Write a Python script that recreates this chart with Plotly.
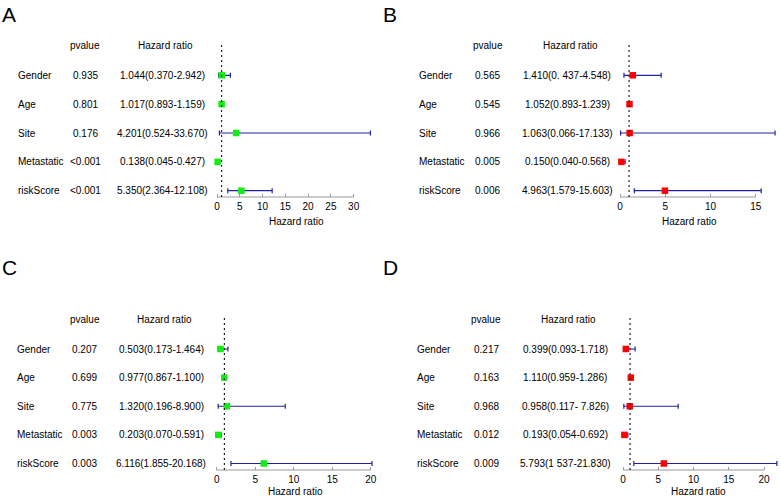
import plotly.graph_objects as go

W, H = 781, 497

# ---- data ----
variables = ["Gender", "Age", "Site", "Metastatic", "riskScore"]

a_pvalue = ["0.935", "0.801", "0.176", "<0.001", "<0.001"]
a_hr = [1.044, 1.017, 4.201, 0.138, 5.350]
a_low = [0.370, 0.893, 0.524, 0.045, 2.364]
a_high = [2.942, 1.159, 33.670, 0.427, 12.108]
a_text = ["1.044(0.370-2.942)", "1.017(0.893-1.159)", "4.201(0.524-33.670)",
          "0.138(0.045-0.427)", "5.350(2.364-12.108)"]
a_ticks = [0, 5, 10, 15, 20, 25, 30]

b_pvalue = ["0.565", "0.545", "0.966", "0.005", "0.006"]
b_hr = [1.410, 1.052, 1.063, 0.150, 4.963]
b_low = [0.437, 0.893, 0.066, 0.040, 1.579]
b_high = [4.548, 1.239, 17.133, 0.568, 15.603]
b_text = ["1.410(0. 437-4.548)", "1.052(0.893-1.239)", "1.063(0.066-17.133)",
          "0.150(0.040-0.568)", "4.963(1.579-15.603)"]
b_ticks = [0, 5, 10, 15]

c_pvalue = ["0.207", "0.699", "0.775", "0.003", "0.003"]
c_hr = [0.503, 0.977, 1.320, 0.203, 6.116]
c_low = [0.173, 0.867, 0.196, 0.070, 1.855]
c_high = [1.464, 1.100, 8.900, 0.591, 20.168]
c_text = ["0.503(0.173-1.464)", "0.977(0.867-1.100)", "1.320(0.196-8.900)",
          "0.203(0.070-0.591)", "6.116(1.855-20.168)"]
c_ticks = [0, 5, 10, 15, 20]

d_pvalue = ["0.217", "0.163", "0.968", "0.012", "0.009"]
d_hr = [0.399, 1.110, 0.958, 0.193, 5.793]
d_low = [0.093, 0.959, 0.117, 0.054, 1.537]
d_high = [1.718, 1.286, 7.826, 0.692, 21.830]
d_text = ["0.399(0.093-1.718)", "1.110(0.959-1.286)", "0.958(0.117- 7.826)",
          "0.193(0.054-0.692)", "5.793(1 537-21.830)"]
d_ticks = [0, 5, 10, 15, 20]

# ---- layout of each panel (pixel positions) ----
panels = [
    dict(letter="A", pv=a_pvalue, hr=a_hr, lo=a_low, hi=a_high, txt=a_text, ticks=a_ticks,
         color="#11ee11", lx=(0, 1), col_lab=16, col_p=85, col_hr=162.5,
         x0=217, ppu=4.556, xr=[-1, 35], top=75.3, sp=28.85, axis=197, head=45,
         dtop=42, title=(296.7, 221)),
    dict(letter="B", pv=b_pvalue, hr=b_hr, lo=b_low, hi=b_high, txt=b_text, ticks=b_ticks,
         color="#ff0000", lx=(381, 1), col_lab=417, col_p=487.5, col_hr=567,
         x0=620, ppu=9.05, xr=[-0.5, 17.5], top=75.3, sp=28.85, axis=197, head=45,
         dtop=42, title=(689.3, 221)),
    dict(letter="C", pv=c_pvalue, hr=c_hr, lo=c_low, hi=c_high, txt=c_text, ticks=c_ticks,
         color="#11ee11", lx=(0, 254), col_lab=15, col_p=84.5, col_hr=161,
         x0=216.7, ppu=7.7, xr=[-0.6, 21], top=349, sp=28.625, axis=470, head=319,
         dtop=316.7, title=(295, 491.5)),
    dict(letter="D", pv=d_pvalue, hr=d_hr, lo=d_low, hi=d_high, txt=d_text, ticks=d_ticks,
         color="#ff0000", lx=(381, 254), col_lab=415, col_p=486, col_hr=565,
         x0=623, ppu=7.05, xr=[-0.6, 22.2], top=349, sp=28.625, axis=470, head=319,
         dtop=316.7, title=(698.3, 491.5)),
]

FONT = "Liberation Sans, Arial, sans-serif"
rows = [5, 4, 3, 2, 1]


def px(x):
    return x / W


def py(y):
    return 1 - y / H


fig = go.Figure()
annotations = []
shapes = []
layout_axes = {}

for i, p in enumerate(panels):
    n = "" if i == 0 else str(i + 1)
    xa, ya = "x" + n, "y" + n

    # y range so that row 5 sits at p["top"] and the axis at p["axis"]
    row1 = p["top"] + 4 * p["sp"]
    ylo = 1 - (p["axis"] - row1) / p["sp"]
    yhi = 5 + (p["top"] - p["dtop"]) / p["sp"]

    layout_axes["xaxis" + n] = dict(
        domain=[px(p["x0"] + p["xr"][0] * p["ppu"]), px(p["x0"] + p["xr"][1] * p["ppu"])],
        range=p["xr"], anchor=ya, showgrid=False, zeroline=False, showline=False,
        tickmode="array", tickvals=p["ticks"], ticks="inside", ticklen=3,
        tickcolor="#999999", tickfont=dict(size=10, color="black", family=FONT),
        ticklabelstandoff=2, fixedrange=True,
    )
    layout_axes["yaxis" + n] = dict(
        domain=[py(p["axis"]), py(p["dtop"])], range=[ylo, yhi], anchor=xa,
        visible=False, fixedrange=True,
    )

    fig.add_trace(go.Scatter(
        x=p["hr"], y=rows, xaxis=xa, yaxis=ya, mode="markers",
        marker=dict(symbol="square", size=6.5, color=p["color"]),
        error_x=dict(type="data", symmetric=False,
                     array=[h - v for h, v in zip(p["hi"], p["hr"])],
                     arrayminus=[v - l for v, l in zip(p["hr"], p["lo"])],
                     color="#2222a0", thickness=1.2, width=2.5),
        cliponaxis=False, showlegend=False, hoverinfo="skip",
    ))

    # axis line from 0 to last tick
    shapes.append(dict(type="line", xref=xa, yref=ya + " domain", x0=0, x1=p["ticks"][-1],
                       y0=0, y1=0, line=dict(color="#999999", width=1)))
    # reference line at HR = 1
    shapes.append(dict(type="line", xref=xa, yref=ya + " domain", x0=1, x1=1,
                       y0=0, y1=1, line=dict(color="#222222", width=1.2, dash="2px,3px")))

    # panel letter
    annotations.append(dict(text=p["letter"], x=px(p["lx"][0]), y=py(p["lx"][1]),
                            xref="paper", yref="paper", xanchor="left", yanchor="top",
                            showarrow=False, font=dict(size=21, family=FONT, color="black")))
    # column headers
    annotations.append(dict(text="pvalue", x=px(p["col_p"]), y=py(p["head"]), xref="paper",
                            yref="paper", xanchor="center", yanchor="middle", showarrow=False,
                            font=dict(size=10, family=FONT, color="black")))
    annotations.append(dict(text="Hazard ratio", x=px(p["col_hr"] + 3), y=py(p["head"]),
                            xref="paper", yref="paper", xanchor="center", yanchor="middle",
                            showarrow=False, font=dict(size=10, family=FONT, color="black")))
    # x axis title
    annotations.append(dict(text="Hazard ratio", x=px(p["title"][0]), y=py(p["title"][1]),
                            xref="paper", yref="paper", xanchor="center", yanchor="middle",
                            showarrow=False, font=dict(size=10, family=FONT, color="black")))
    # table rows
    for r, v, pv, t in zip(rows, variables, p["pv"], p["txt"]):
        annotations.append(dict(text=v, x=px(p["col_lab"]), y=r, xref="paper", yref=ya,
                                xanchor="left", yanchor="middle", showarrow=False,
                                font=dict(size=10, family=FONT, color="black")))
        annotations.append(dict(text=pv, x=px(p["col_p"]), y=r, xref="paper", yref=ya,
                                xanchor="center", yanchor="middle", showarrow=False,
                                font=dict(size=10, family=FONT, color="black")))
        annotations.append(dict(text=t, x=px(p["col_hr"]), y=r, xref="paper", yref=ya,
                                xanchor="center", yanchor="middle", showarrow=False,
                                font=dict(size=10, family=FONT, color="black")))

fig.update_layout(
    width=W, height=H, margin=dict(l=0, r=0, t=0, b=0),
    paper_bgcolor="white", plot_bgcolor="white",
    font=dict(family=FONT, size=10, color="black"),
    annotations=annotations, shapes=shapes, **layout_axes,
)

# the page body has a default 8px margin; drop it so the figure fills the window
fig.write_html("out.html", config={"displayModeBar": False},
               post_script="document.body.style.margin='0px';")
